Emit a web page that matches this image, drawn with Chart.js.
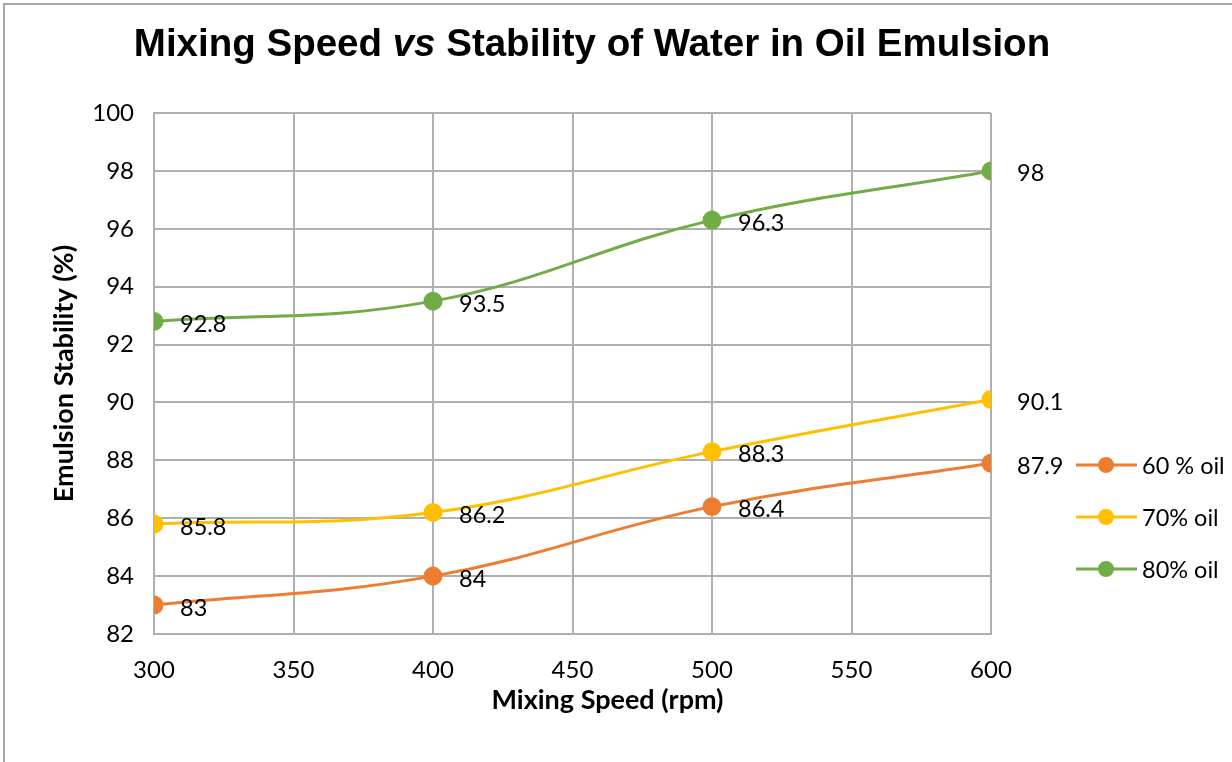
<!DOCTYPE html>
<html>
<head>
<meta charset="utf-8">
<script src="https://cdn.jsdelivr.net/npm/chart.js@4"></script>
<style>
  html, body { margin: 0; padding: 0; background: #fff; }
  #wrap { position: relative; width: 1232px; height: 762px; }
  #title {
    position: absolute; left: 0; width: 1184px; top: 21px;
    text-align: center; white-space: nowrap;
    font: bold 38.5px "Liberation Sans", Arial, sans-serif; color: #000;
  }
</style>
</head>
<body>
<div id="wrap">
  <canvas id="stabChart" width="1232" height="762"></canvas>
  <div id="title">Mixing Speed <i>vs</i> Stability of Water in Oil Emulsion</div>
</div>
<script>
const speeds = [300, 400, 500, 600];
const oil60 = [83, 84, 86.4, 87.9];
const oil70 = [85.8, 86.2, 88.3, 90.1];
const oil80 = [92.8, 93.5, 96.3, 98];
const seriesNames = ['60 % oil', '70% oil', '80% oil'];
const seriesColors = ['#ED7D31', '#FFC000', '#70AD47'];

const FONT = 'Lato, "Open Sans", sans-serif';

const pts = vals => vals.map((v, i) => ({ x: speeds[i], y: v }));

// outer frame of the chart box
const framePlugin = {
    id: 'frame',
    beforeDraw(chart) {
        const c = chart.ctx;
        c.save();
        c.strokeStyle = '#a6a6a6';
        c.lineWidth = 2;
        c.beginPath();
        c.moveTo(4, chart.height);
        c.lineTo(4, 4);
        c.lineTo(chart.width, 4);
        c.stroke();
        c.restore();
    }
};

// x axis title, sitting a bit right of the plot centre
const xTitle = {
    id: 'xTitle',
    afterDraw(chart) {
        const c = chart.ctx;
        const a = chart.chartArea;
        c.save();
        c.font = 'bold 27px ' + FONT;
        c.fillStyle = '#000';
        c.textAlign = 'center';
        c.textBaseline = 'middle';
        c.fillText('Mixing Speed (rpm)', (a.left + a.right) / 2 + 35, a.bottom + 66);
        c.restore();
    }
};

// value labels to the right of each point
const valueLabels = {
    id: 'valueLabels',
    afterDatasetsDraw(chart) {
        const c = chart.ctx;
        c.save();
        c.font = '23.5px ' + FONT;
        c.fillStyle = '#000';
        c.textBaseline = 'middle';
        chart.data.datasets.forEach((ds, i) => {
            chart.getDatasetMeta(i).data.forEach((p, j) => {
                c.fillText(String(ds.data[j].y), p.x + 26, p.y + 3);
            });
        });
        c.restore();
    }
};

// legend: line with a marker, then the name
const sideLegend = {
    id: 'sideLegend',
    afterDraw(chart) {
        const c = chart.ctx;
        const a = chart.chartArea;
        c.save();
        c.font = '23.5px ' + FONT;
        c.textBaseline = 'middle';
        chart.data.datasets.forEach((ds, i) => {
            const y = a.bottom - 169 + i * 52;
            const x = a.right + 85;
            c.strokeStyle = ds.borderColor;
            c.lineWidth = 3;
            c.beginPath();
            c.moveTo(x, y);
            c.lineTo(x + 61, y);
            c.stroke();
            c.fillStyle = ds.borderColor;
            c.beginPath();
            c.arc(x + 30, y, 8, 0, Math.PI * 2);
            c.fill();
            c.fillStyle = '#000';
            c.fillText(ds.label, x + 66, y + 1);
        });
        c.restore();
    }
};

const ctx = document.getElementById('stabChart').getContext('2d');
const stabChart = new Chart(ctx, {
    type: 'line',
    data: {
        datasets: [oil60, oil70, oil80].map((vals, i) => ({
            label: seriesNames[i],
            data: pts(vals),
            borderColor: seriesColors[i],
            backgroundColor: seriesColors[i],
            borderWidth: 3,
            pointRadius: 8,
            pointHoverRadius: 8,
            tension: 0.4
        }))
    },
    options: {
        responsive: false,
        animation: false,
        layout: { padding: { top: 113, right: 241, left: 48, bottom: 50 } },
        plugins: {
            legend: { display: false },
            tooltip: { enabled: false }
        },
        scales: {
            x: {
                type: 'linear',
                min: 300,
                max: 600,
                ticks: { stepSize: 50, color: '#000', font: { family: FONT, size: 24 }, padding: 22 },
                grid: { color: '#b0b0b0', lineWidth: 2, drawTicks: false },
                border: { color: '#b0b0b0', width: 2 },
                afterFit: s => { s.height = 78; }
            },
            y: {
                min: 82,
                max: 100,
                ticks: { stepSize: 2, color: '#000', font: { family: FONT, size: 24 }, padding: 20 },
                grid: { color: '#b0b0b0', lineWidth: 2, drawTicks: false },
                border: { color: '#b0b0b0', width: 2 },
                title: { display: true, text: 'Emulsion Stability (%)', color: '#000',
                         font: { family: FONT, size: 27, weight: 'bold' }, padding: 0 },
                afterFit: s => { s.width = 106; }
            }
        }
    },
    plugins: [framePlugin, xTitle, valueLabels, sideLegend]
});
</script>
</body>
</html>
